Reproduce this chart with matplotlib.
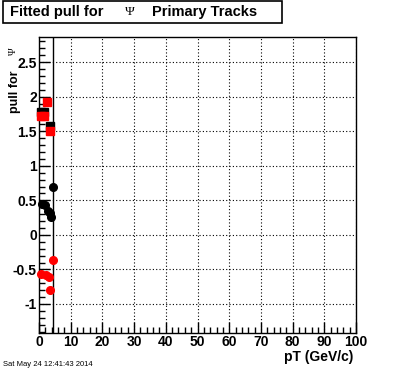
import matplotlib
matplotlib.use("Agg")
import matplotlib.pyplot as plt
from matplotlib.ticker import MultipleLocator, FuncFormatter
from matplotlib.patches import Rectangle

plt.rcParams['font.family'] = ['Liberation Sans', 'DejaVu Sans']
plt.rcParams['axes.unicode_minus'] = False

# pull values
black_sq_pt = [0.6, 1.6, 3.5]
black_sq_pull = [1.78, 1.78, 1.57]
red_sq_pt = [0.6, 1.6, 2.5, 3.6]
red_sq_pull = [1.72, 1.72, 1.92, 1.50]

black_pt = [0.8, 2.0, 2.8, 3.4, 3.9, 4.5]
black_pull = [0.45, 0.43, 0.35, 0.31, 0.26, 0.70]
red_pt = [0.7, 2.1, 3.1, 3.5, 4.5]
red_pull = [-0.56, -0.58, -0.61, -0.80, -0.37]

cut_pt = 4.5

fig = plt.figure(figsize=(3.96, 3.72), dpi=100)
ax = fig.add_axes([0.0985, 0.1048, 0.8005, 0.795])

ax.plot(black_sq_pt, black_sq_pull, 's', color='black', ms=6, clip_on=False, zorder=3)
ax.plot(red_sq_pt, red_sq_pull, 's', color='red', ms=6, clip_on=False, zorder=4)
ax.plot(black_pt, black_pull, 'o', color='black', ms=5.5, clip_on=False, zorder=3)
ax.plot(red_pt, red_pull, 'o', color='red', ms=5.5, clip_on=False, zorder=3)
ax.axvline(cut_pt, color='black', lw=1.0, zorder=2)

ax.set_xlim(0, 100)
ax.set_ylim(-1.42, 2.86)
ax.xaxis.set_major_locator(MultipleLocator(10))
ax.xaxis.set_minor_locator(MultipleLocator(2))
ax.yaxis.set_major_locator(MultipleLocator(0.5))
ax.yaxis.set_minor_locator(MultipleLocator(0.1))
ax.yaxis.set_major_formatter(FuncFormatter(lambda v, p: '%g' % round(v, 2)))
ax.grid(True, which='major', color='black', linestyle=(0, (1, 2)), lw=0.8)
ax.tick_params(which='both', direction='in', top=False, right=False, width=1)
ax.tick_params(which='major', length=8, labelsize=10)
ax.tick_params(axis='x', which='major', pad=1.5)
ax.tick_params(axis='y', which='major', pad=1.5)
ax.tick_params(which='minor', length=4)
for lab in ax.get_xticklabels() + ax.get_yticklabels():
    lab.set_fontweight('bold')
for s in ax.spines.values():
    s.set_linewidth(1.0)

# title box
fig.patches.append(Rectangle((3 / 396, 1 - 23 / 372), 279 / 396, 22 / 372,
                             transform=fig.transFigure, fill=False, ec='black', lw=1.2))
fig.text(10 / 396, 1 - 12 / 372, 'Fitted pull for', fontsize=10.5, fontweight='bold', va='center')
fig.text(125 / 396, 1 - 12 / 372, '\u03a8', fontsize=9.5, family='Liberation Serif', va='center')
fig.text(152 / 396, 1 - 12 / 372, 'Primary Tracks', fontsize=10.5, fontweight='bold', va='center')

# axis labels
fig.text(9 / 396, 1 - 113 / 372, 'pull for', fontsize=9, fontweight='bold', rotation=90,
         ha='left', va='bottom')
fig.text(9 / 396, 1 - 55 / 372, '\u03a8', fontsize=7.5, family='Liberation Serif', rotation=90,
         ha='left', va='bottom')
fig.text(353 / 396, 1 - 361 / 372, 'pT (GeV/c)', fontsize=10, fontweight='bold',
         ha='right', va='baseline')
fig.text(3 / 396, 1 - 365 / 372, 'Sat May 24 12:41:43 2014', fontsize=5.5, va='center')

fig.savefig('out.png', dpi=100)
